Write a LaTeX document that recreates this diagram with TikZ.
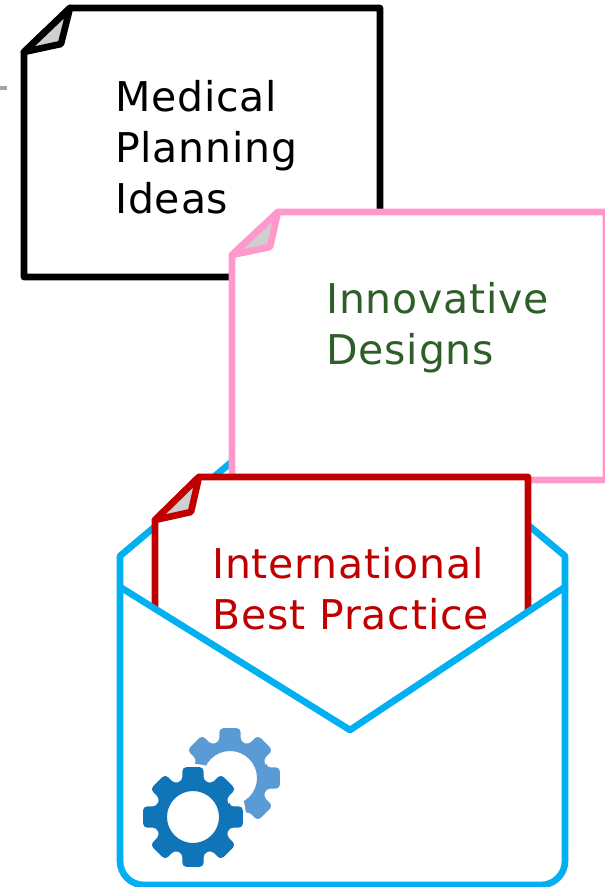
\documentclass[tikz,border=0pt]{standalone}
\usepackage{fontspec}
\setmainfont[LetterSpace=2]{DejaVu Sans}
\usetikzlibrary{positioning}

\definecolor{sheetpink}{HTML}{FF99CC}
\definecolor{sheetred}{HTML}{C00000}
\definecolor{envblue}{HTML}{00B0F0}
\definecolor{textgreen}{HTML}{2F5F28}
\definecolor{foldgray}{HTML}{D0CECE}
\definecolor{markgray}{HTML}{A6A6A6}
\definecolor{geardark}{HTML}{0F75B8}
\definecolor{gearlight}{HTML}{5B9BD5}

\tikzset{
  sheetline/.style={line width=5pt, line join=round, fill=white},
  foldline/.style={line width=5pt, line join=round, fill=foldgray},
  envline/.style={line width=5pt, draw=envblue, line join=round},
  sheettext/.style={inner sep=0pt, anchor=north west, align=left,
    font=\fontsize{30.75}{38.25}\selectfont}
}

% one gear wheel: colour, centre, hole radius
\newcommand{\gearwheel}[3]{
  \fill[#1, even odd rule, rounded corners=3pt, shift={#2}] (-16:38)
    \foreach \a in {0,45,...,315} { -- (\a-16:38) -- (\a-12:51) -- (\a+12:51) -- (\a+16:38) }
    -- cycle (0,0) circle[radius=#3];
}

\begin{document}
\begin{tikzpicture}[x=0.75pt,y=-0.75pt]
\useasboundingbox (0,0) rectangle (605,887);

% Short gray mark on the left
\draw[line width=2.5pt, markgray] (0,88) -- (7,88);

% Back of the envelope
\draw[envline, fill=white] (120,587) -- (120,556) -- (342,369) -- (565,556) -- (565,587);

% Medical sheet (Black)
\draw[sheetline, draw=black] (24,52) -- (70,8) -- (380,8) -- (380,277) -- (24,277) -- cycle;
\draw[foldline, draw=black] (24,52) -- (61,44) -- (70,8) -- cycle;

% Innovative sheet (Pink)
\draw[sheetline, draw=sheetpink] (232,255) -- (278,212) -- (606,212) -- (606,480) -- (232,480) -- cycle;
\draw[foldline, draw=sheetpink] (232,255) -- (270,247) -- (278,212) -- cycle;

% International sheet (Red), bottom edge hidden by the envelope
\draw[sheetline, draw=sheetred] (155,520) -- (199,477) -- (528,477) -- (528,745) -- (155,745) -- cycle;
\draw[foldline, draw=sheetred] (155,520) -- (191,512) -- (199,477) -- cycle;

% Front of the envelope
\draw[envline, fill=white] (120,587) -- (350,730) -- (565,587)
  [rounded corners=18pt] -- (565,885) -- (120,885) [sharp corners] -- cycle;

% Gears
\gearwheel{gearlight}{(230,778)}{27}
\fill[white] (193,817) circle[radius=53];
\gearwheel{geardark}{(193,817)}{26}

% Labels
\node[sheettext] (medical) at (115,80) {Medical\\Planning\\Ideas};
\node[sheettext, text=textgreen] (innovative) at (326,282) {Innovative\\Designs};
\node[sheettext, text=sheetred] (international) at (212,547) {International\\Best Practice};

\end{tikzpicture}
\end{document}
